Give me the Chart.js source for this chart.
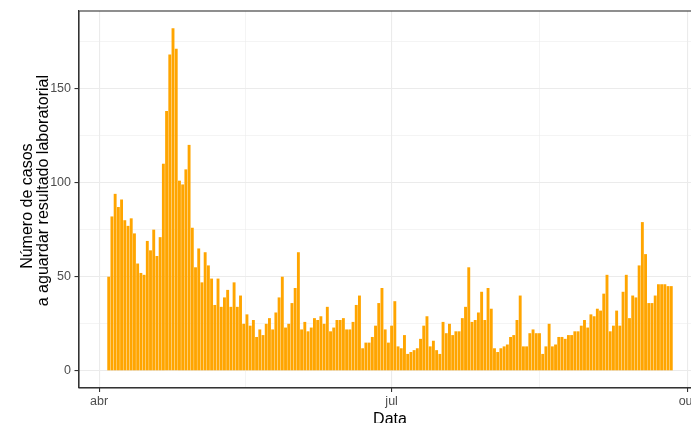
<!DOCTYPE html>
<html>
<head>
<meta charset="utf-8">
<script src="https://cdn.jsdelivr.net/npm/chart.js@4"></script>
<style>
html,body{margin:0;padding:0;overflow:hidden;background:#ffffff}
#wrap{width:720px;height:432px}
</style>
</head>
<body>
<div id="wrap"><canvas id="c" width="720" height="432"></canvas></div>
<script>
// ---- data ----
const startDate = '2020-04-04';
const casos = [
  50,82,94,87,91,80,77,81,73,57,
  52,51,69,64,75,61,71,110,138,168,
  182,171,101,99,107,120,76,55,65,47,
  63,56,49,35,49,34,39,43,34,47,
  34,40,25,30,24,27,18,22,19,25,
  28,22,31,39,50,23,25,36,44,63,
  22,26,21,23,28,27,29,25,34,21,
  23,27,27,28,22,22,26,35,40,12,
  15,15,18,24,36,44,22,15,24,37,
  13,12,19,9,10,11,12,17,24,29,
  13,16,11,9,26,20,25,19,21,21,
  28,34,55,26,27,31,42,27,44,33,
  12,10,12,13,14,18,19,27,40,13,
  13,20,22,20,20,9,13,25,13,14,
  18,18,17,19,19,21,21,24,27,23,
  30,29,33,32,41,51,21,24,32,24,
  42,51,28,40,39,56,79,62,36,36,
  40,46,46,46,45,45
];
const xTickDates = ['2020-04-01','2020-07-01','2020-10-01'];
const xTickLabels = ['abr','jul','out'];
const yTicks = [0,50,100,150];
const yTitle = ['Número de casos','a aguardar resultado laboratorial'];
const xTitle = 'Data';

// ---- helpers ----
const DAY = 86400000;
const origin = Date.UTC(2020,3,1);
function dayNum(s){const p=s.split('-').map(Number);return Math.round((Date.UTC(p[0],p[1]-1,p[2])-origin)/DAY);}
const start = dayNum(startDate);
const points = casos.map((v,i)=>({x:start+i,y:v}));
const xMajor = xTickDates.map(dayNum);
const xMinor = xMajor.slice(0,-1).map((v,i)=>(v+xMajor[i+1])/2);
const yStep = yTicks[1]-yTicks[0];
const yMinor = yTicks.map(v=>v+yStep/2);

const xLo = start-0.45, xHi = start+casos.length-1+0.45, xPad=(xHi-xLo)*0.05;
const yMax = Math.max(...casos), yPad = yMax*0.05;

// small per-line nudges of the rotated y title (as in the reference)
const yTitleLines = [yTitle[0] + '   ', '    ' + yTitle[1]];

const GRID='#EBEBEB', AX='#333333', TXT='#4D4D4D';
const FONT='"Liberation Sans", Arial, Helvetica, sans-serif';

const panelBorder = {
  id:'panelBorder',
  afterDraw(chart){
    const {ctx, chartArea:a} = chart;
    ctx.save();
    ctx.strokeStyle = AX; ctx.lineWidth = 1.1;
    ctx.strokeRect(a.left, a.top, a.right-a.left, a.bottom-a.top);
    ctx.restore();
  }
};

function isMajorX(ctx){return ctx.tick && xMajor.includes(ctx.tick.value);}
function isMajorY(ctx){return ctx.tick && yTicks.includes(ctx.tick.value);}

new Chart(document.getElementById('c'), {
  type:'bar',
  data:{datasets:[{
    data:points,
    backgroundColor:'#FFA500',
    borderWidth:0,
    barPercentage:0.9,
    categoryPercentage:1.0
  }]},
  options:{
    responsive:false,
    animation:false,
    devicePixelRatio:1,
    layout:{padding:{left:0,top:10,right:19,bottom:0}},
    plugins:{legend:{display:false},tooltip:{enabled:false}},
    scales:{
      x:{
        type:'linear',
        offset:false,
        min:xLo-xPad, max:xHi+xPad,
        afterBuildTicks:s=>{
          s.ticks = xMajor.concat(xMinor).sort((a,b)=>a-b).map(v=>({value:v}));
        },
        afterFit:s=>{s.height=44;},
        ticks:{
          autoSkip:false, maxRotation:0, minRotation:0, padding:2,
          color:TXT, font:{family:FONT,size:12.5},
          callback:v=>{const i=xMajor.indexOf(v);return i>=0?xTickLabels[i]:'';}
        },
        grid:{
          offset:false,
          color:GRID,
          lineWidth:c=>isMajorX(c)?1.1:0.55,
          tickColor:c=>isMajorX(c)?AX:'rgba(0,0,0,0)',
          tickLength:4, tickWidth:1.1
        },
        border:{color:AX,width:1.1},
        title:{display:true,text:xTitle,color:'#000000',
          font:{family:FONT,size:16,lineHeight:1.2},
          padding:{top:0,bottom:2.7}}
      },
      y:{
        type:'linear',
        min:-yPad, max:yMax+yPad,
        afterBuildTicks:s=>{
          s.ticks = yTicks.concat(yMinor).sort((a,b)=>a-b).map(v=>({value:v}));
        },
        afterFit:s=>{s.width=79;},
        ticks:{
          autoSkip:false, padding:3.5,
          color:TXT, font:{family:FONT,size:12.5},
          callback:v=>yTicks.includes(v)?String(v):''
        },
        grid:{
          color:GRID,
          lineWidth:c=>isMajorY(c)?1.1:0.55,
          tickColor:c=>isMajorY(c)?AX:'rgba(0,0,0,0)',
          tickLength:4.5, tickWidth:1.1
        },
        border:{color:AX,width:1.1},
        title:{display:true,text:yTitleLines,color:'#000000',
          font:{family:FONT,size:16,lineHeight:0.97},
          padding:{top:20.25,bottom:0}}
      }
    }
  },
  plugins:[panelBorder]
});
</script>
</body>
</html>
